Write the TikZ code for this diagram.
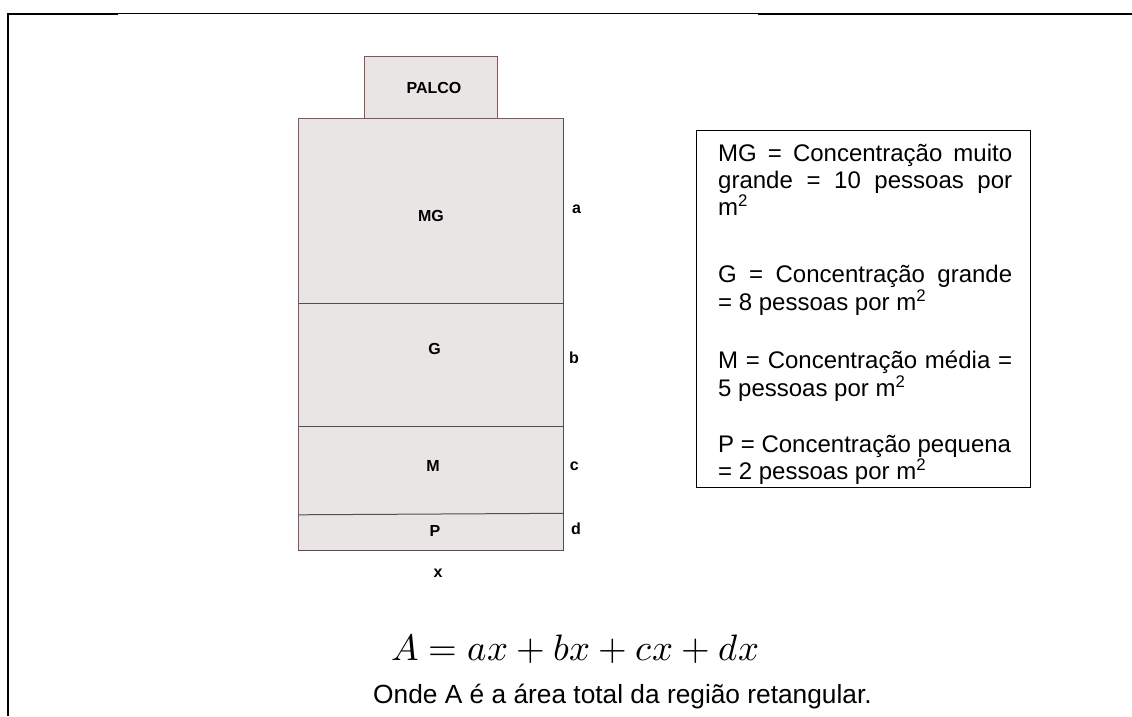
\documentclass[tikz,border=0pt]{standalone}
\usepackage{fontspec}
\usepackage{unicode-math}
\setmainfont{Liberation Sans}
\setmathfont{Latin Modern Math}
\definecolor{zonefill}{RGB}{233,229,229}
\definecolor{zoneborder}{RGB}{135,85,85}
\definecolor{zoneline}{RGB}{80,80,80}
\tikzset{
  framethick/.style={line width=2pt, black},
  framethin/.style={line width=1pt, black},
  redborder/.style={draw=zoneborder, line width=1pt},
  grayborder/.style={draw=zoneline, line width=1pt},
  lbl/.style={font=\fontsize{16}{19}\selectfont\bfseries, inner sep=0pt},
  leg/.style={font=\fontsize{24}{28}\selectfont, anchor=base west, inner sep=0pt},
}
\begin{document}
\begin{tikzpicture}[x=1pt, y={(0pt,-1pt)}]
\useasboundingbox (0,0) rectangle (1132,716);
\fill[white] (0,0) rectangle (1132,716);
% outer frame
\draw[framethick] (8,716) -- (8,13.7) -- (118,13.7);
\draw[framethin] (118,13.2) -- (758,13.2);
\draw[line width=2.6pt] (758,14) -- (1132,14);
% stage
\fill[zonefill] (364,56) rectangle (497,118);
\draw[redborder] (364,56) rectangle (497,118);
\node[lbl] (palco) at (434,87.5) {PALCO};
% main area
\fill[zonefill] (298,118) rectangle (563,550);
\draw[grayborder] (298,303.3) -- (563,303.3);
\draw[grayborder] (298,426.7) -- (563,426.7);
\draw[grayborder] (298,514.8) -- (563,513.3);
\draw[redborder] (298,550) -- (298,118) -- (563,118);
\draw[grayborder] (563,118) -- (563,550) -- (298,550);
\node[lbl] (mg) at (431,215.5) {MG};
\node[lbl] (g) at (434.5,348.7) {G};
\node[lbl] (m) at (433,466) {M};
\node[lbl] (p) at (435,531) {P};
\node[lbl, anchor=base] (la) at (576.5,213) {a};
\node[lbl, anchor=base] (lb) at (574,363) {b};
\node[lbl, anchor=base] (lc) at (574.3,470) {c};
\node[lbl, anchor=base] (ld) at (576,534) {d};
\node[lbl, anchor=base] (lx) at (438,577) {x};
% legend
\draw[black, line width=1pt] (696,130) rectangle (1030,487);
\node[leg] (l1) at (718,161) {\makebox[294pt][s]{MG = Concentração muito}};
\node[leg] (l2) at (718,188) {\makebox[294pt][s]{grande = 10 pessoas por}};
\node[leg] (l3) at (718,215) {m\textsuperscript{2}};
\node[leg] (l4) at (718,282) {\makebox[294pt][s]{G = Concentração grande}};
\node[leg] (l5) at (718,310) {= 8 pessoas por m\textsuperscript{2}};
\node[leg] (l6) at (718,368) {\makebox[294pt][s]{M = Concentração média =}};
\node[leg] (l7) at (718,396) {5 pessoas por m\textsuperscript{2}};
\node[leg] (l8) at (718,452) {P = Concentração pequena};
\node[leg] (l9) at (718,479) {= 2 pessoas por m\textsuperscript{2}};
% formula and note
\node[anchor=base west, inner sep=0pt, font=\fontsize{36.8}{42}\selectfont] (formula) at (391,660) {$A=ax+bx+cx+dx$};
\node[anchor=base west, inner sep=0pt, font=\fontsize{26.3}{30}\selectfont] (note) at (373,703) {Onde A é a área total da região retangular.};
\end{tikzpicture}
\end{document}
